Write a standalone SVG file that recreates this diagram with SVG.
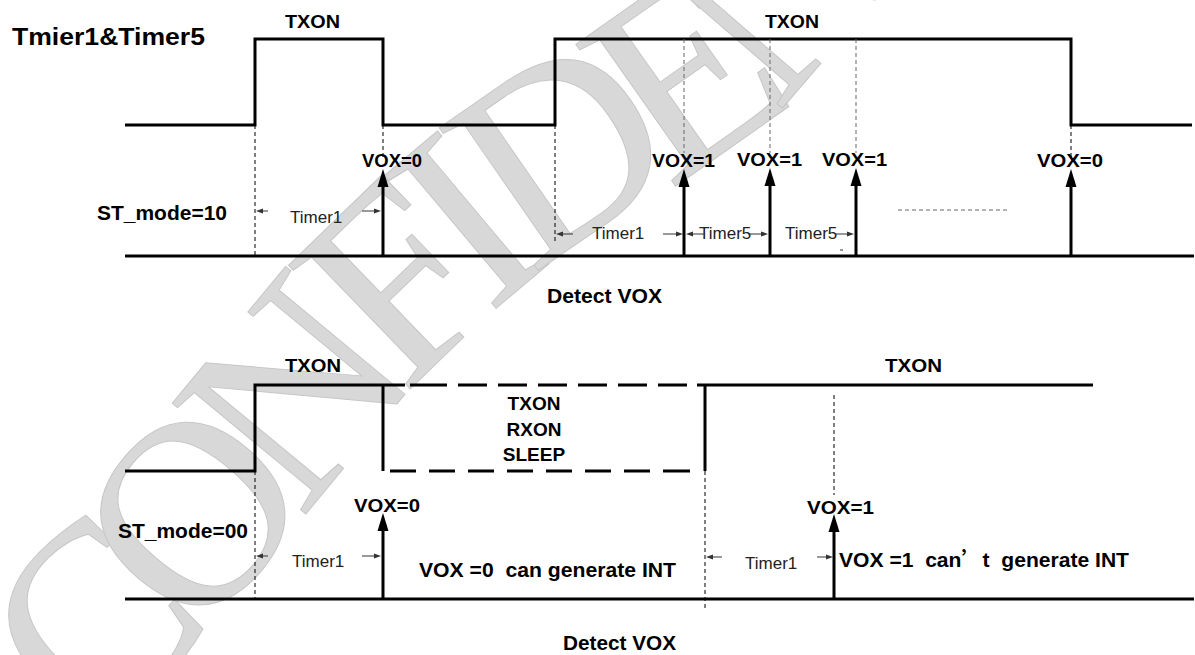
<svg xmlns="http://www.w3.org/2000/svg" xmlns:xlink="http://www.w3.org/1999/xlink" width="1195" height="655" viewBox="0 0 1195 655">
<style>
.sig{stroke:#000;stroke-width:3;fill:none;stroke-linejoin:miter;stroke-linecap:butt}
.shaft{stroke:#000;stroke-width:3;fill:none}
.dk{stroke:#000;stroke-width:1;fill:none;stroke-dasharray:4 3}
.gd{stroke:#666;stroke-width:1;fill:none;stroke-dasharray:4 3}
.ta{stroke:#333;stroke-width:1;fill:none}
.b{font-family:"Liberation Sans",Arial,sans-serif;font-weight:bold;fill:#000;white-space:pre}
.r{font-family:"Liberation Sans",Arial,sans-serif;font-size:17px;fill:#222}
.wm{font-family:"Liberation Serif","Times New Roman",serif;font-size:265px;letter-spacing:-30px;fill:#d8d8d8;stroke:#c6c6c6;stroke-width:1}
</style>
<defs>
<path id="ah" d="M0,0 L-5.5,18 L5.5,18 Z" fill="#000"/>
<path id="sl" d="M0,0 L7,-2.5 L7,2.5 Z" fill="#333"/>
<path id="sr" d="M0,0 L-7,-2.5 L-7,2.5 Z" fill="#333"/>
<path id="wmpath" d="M91,745 C190,660 300,520 378,427 C450,340 580,230 680,179 C760,138 850,50 960,-130"/>
</defs>
<g id="watermark">
<text class="wm"><textPath xlink:href="#wmpath" startOffset="0">CONFIDENTIAL</textPath></text>
</g>
<g id="title"><text class="b" x="12" y="45" font-size="24" textLength="193" lengthAdjust="spacingAndGlyphs">Tmier1&amp;Timer5</text></g>

<g id="top-waveform">
<path class="sig" d="M125,125 H255 V39 H383 V125 H555 V39 H1071 V125 H1192"/>
<path class="sig" d="M125,256 H1194"/>
<text class="b" x="285" y="28" font-size="19" textLength="55" lengthAdjust="spacingAndGlyphs">TXON</text>
<text class="b" x="765" y="28" font-size="19" textLength="54" lengthAdjust="spacingAndGlyphs">TXON</text>
<text class="b" x="97" y="220" font-size="20" textLength="130" lengthAdjust="spacingAndGlyphs">ST_mode=10</text>
<text class="b" x="547" y="303" font-size="20" textLength="115" lengthAdjust="spacingAndGlyphs">Detect VOX</text>
</g>

<g id="top-vox">
<text class="b" x="362" y="167" font-size="19" textLength="60" lengthAdjust="spacingAndGlyphs">VOX=0</text>
<text class="b" x="652" y="167" font-size="19" textLength="63" lengthAdjust="spacingAndGlyphs">VOX=1</text>
<text class="b" x="737" y="166" font-size="19" textLength="65" lengthAdjust="spacingAndGlyphs">VOX=1</text>
<text class="b" x="822" y="166" font-size="19" textLength="65" lengthAdjust="spacingAndGlyphs">VOX=1</text>
<text class="b" x="1037" y="167" font-size="19" textLength="66" lengthAdjust="spacingAndGlyphs">VOX=0</text>
</g>

<g id="top-timers">
<text class="r" x="290" y="223">Timer1</text>
<text class="r" x="592" y="239">Timer1</text>
<text class="r" x="699" y="239">Timer5</text>
<text class="r" x="785" y="239">Timer5</text>
</g>

<g id="bottom-waveform">
<path class="sig" d="M125,471 H255 V385 H405"/>
<path class="sig" d="M383,385 V471"/>
<path class="sig" d="M410,385 H447 M458,385 H487 M498,385 H527 M538,385 H567 M578,385 H607 M618,385 H647 M658,385 H687"/>
<path class="sig" d="M390,471 H416 M429,471 H455 M468,471 H494 M507,471 H533 M546,471 H572 M585,471 H611 M624,471 H650 M663,471 H690"/>
<path class="sig" d="M705,471 V385 M697,385 H1093"/>
<path class="sig" d="M125,599 H1194"/>
<text class="b" x="285" y="372" font-size="19" textLength="56" lengthAdjust="spacingAndGlyphs">TXON</text>
<text class="b" x="885" y="372" font-size="19" textLength="57" lengthAdjust="spacingAndGlyphs">TXON</text>
<text class="b" x="534" y="410" font-size="19" text-anchor="middle">TXON</text>
<text class="b" x="534" y="436" font-size="19" text-anchor="middle">RXON</text>
<text class="b" x="534" y="461" font-size="19" text-anchor="middle">SLEEP</text>
<text class="b" x="118" y="538" font-size="20" textLength="130" lengthAdjust="spacingAndGlyphs">ST_mode=00</text>
<text class="b" x="563" y="650" font-size="20" textLength="113" lengthAdjust="spacingAndGlyphs">Detect VOX</text>
</g>

<g id="bottom-vox">
<text class="b" x="354" y="512" font-size="19" textLength="66" lengthAdjust="spacingAndGlyphs">VOX=0</text>
<text class="b" x="807" y="514" font-size="19" textLength="67" lengthAdjust="spacingAndGlyphs">VOX=1</text>
<text class="b" x="419" y="577" font-size="21" textLength="257" lengthAdjust="spacingAndGlyphs">VOX =0  can generate INT</text>
<text class="b" x="839" y="567" font-size="21" textLength="290" lengthAdjust="spacingAndGlyphs">VOX =1  can<tspan font-family="'Noto Sans CJK SC',sans-serif">’</tspan>t  generate INT</text>
</g>

<g id="bottom-timers">
<text class="r" x="292" y="567">Timer1</text>
<text class="r" x="745" y="569">Timer1</text>
</g>

<g id="connectors">
<path class="dk" d="M255,125 V256 M383,125 V160 M555,125 V243 M1071,125 V158"/>
<path class="gd" d="M684,39 V153 M770,39 V153 M856,39 V153 M898,210 H1007"/>
<path class="dk" d="M255,471 V599 M705,471 V610 M834,395 V495"/>
<path class="shaft" d="M383,256 V186 M684,256 V186 M770,256 V185 M856,256 V185 M1071,256 V186"/>
<use xlink:href="#ah" x="383" y="169"/>
<use xlink:href="#ah" x="684" y="169"/>
<use xlink:href="#ah" x="770" y="168"/>
<use xlink:href="#ah" x="856" y="168"/>
<use xlink:href="#ah" x="1071" y="169"/>
<path class="shaft" d="M383,599 V530 M834,599 V531"/>
<use xlink:href="#ah" x="383" y="513"/>
<use xlink:href="#ah" x="834" y="514"/>
<path class="ta" d="M262,211 H268 M362,211 H375 M562,234 H573 M663,234 H677 M692,234 H705 M748,234 H762 M835,234 H848 M262,556 H268 M362,556 H375 M712,557 H722 M817,557 H827 M840,250 H843"/>
<use xlink:href="#sl" x="256" y="211"/>
<use xlink:href="#sr" x="381" y="211"/>
<use xlink:href="#sl" x="556" y="234"/>
<use xlink:href="#sr" x="683" y="234"/>
<use xlink:href="#sl" x="686" y="234"/>
<use xlink:href="#sr" x="768" y="234"/>
<use xlink:href="#sr" x="854" y="234"/>
<use xlink:href="#sl" x="256" y="556"/>
<use xlink:href="#sr" x="381" y="556"/>
<use xlink:href="#sl" x="706" y="557"/>
<use xlink:href="#sr" x="833" y="557"/>
</g>
</svg>
